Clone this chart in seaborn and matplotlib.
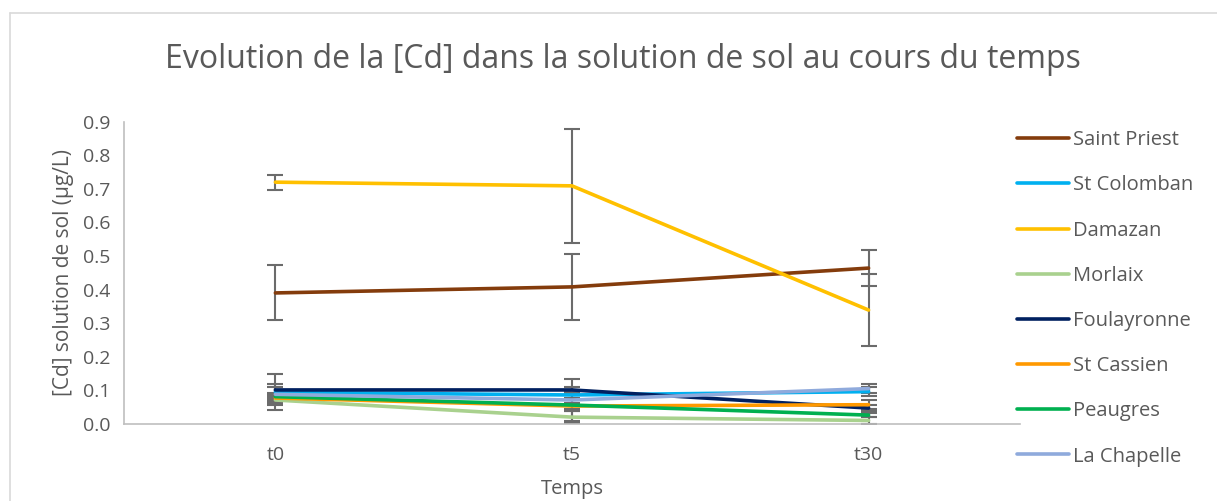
import numpy as np
import pandas as pd
import matplotlib
matplotlib.use("Agg")
import matplotlib.pyplot as plt
import seaborn as sns

# Data
times = ["t0", "t5", "t30"]
sites = ["Saint Priest", "St Colomban", "Damazan", "Morlaix",
         "Foulayronne", "St Cassien", "Peaugres", "La Chapelle"]

saint_priest = [0.390, 0.408, 0.464]
st_colomban = [0.094, 0.086, 0.096]
damazan = [0.720, 0.709, 0.339]
morlaix = [0.071, 0.020, 0.010]
foulayronne = [0.101, 0.101, 0.047]
st_cassien = [0.077, 0.053, 0.057]
peaugres = [0.081, 0.056, 0.026]
la_chapelle = [0.088, 0.071, 0.105]

# error bar half-widths
err_saint_priest = [0.082, 0.098, 0.054]
err_st_colomban = [0.054, 0.010, 0.013]
err_damazan = [0.022, 0.170, 0.106]
err_morlaix = [0.008, 0.018, 0.011]
err_foulayronne = [0.010, 0.010, 0.008]
err_st_cassien = [0.008, 0.010, 0.013]
err_peaugres = [0.008, 0.017, 0.005]
err_la_chapelle = [0.031, 0.064, 0.014]

colors = ["#843C0C", "#00B0F0", "#FFC000", "#A9D18E",
          "#002060", "#FF9900", "#00B050", "#8FAADC"]

values = [saint_priest, st_colomban, damazan, morlaix,
          foulayronne, st_cassien, peaugres, la_chapelle]
errors = [err_saint_priest, err_st_colomban, err_damazan, err_morlaix,
          err_foulayronne, err_st_cassien, err_peaugres, err_la_chapelle]

rows = []
for site, vals, errs in zip(sites, values, errors):
    for i, t in enumerate(times):
        rows.append({"site": site, "temps": t, "pos": i, "cd": vals[i], "err": errs[i]})
df = pd.DataFrame(rows)

sns.set_style("white")
plt.rcParams["font.family"] = ["Open Sans", "DejaVu Sans"]

fig = plt.figure(figsize=(12.17, 5.01), dpi=100)
ax = fig.add_axes([0.102, 0.154, 0.736, 0.603])

# error bars first, behind the lines
for site in sites:
    sub = df[df["site"] == site]
    ax.errorbar(sub["pos"], sub["cd"], yerr=sub["err"], fmt="none",
                ecolor="#6b6b6b", elinewidth=1.5, capsize=5.5, capthick=1.5, zorder=2)

sns.lineplot(data=df, x="pos", y="cd", hue="site", hue_order=sites,
             palette=colors, linewidth=2.6, ax=ax, legend=True, zorder=3)

ax.set_xlim(-0.51, 2.51)
ax.set_ylim(0, 0.9)
ax.set_xticks(range(len(times)))
ax.set_xticklabels(times)
ax.set_yticks(np.arange(0, 0.91, 0.1))
ax.set_yticklabels([f"{v:.1f}" for v in np.arange(0, 0.91, 0.1)])
ax.tick_params(axis="both", length=0, labelsize=14, colors="#595959", pad=10)
ax.tick_params(axis="x", pad=16)

for s in ["top", "right"]:
    ax.spines[s].set_visible(False)
for s in ["left", "bottom"]:
    ax.spines[s].set_color("#BFBFBF")
    ax.spines[s].set_linewidth(1.2)

ax.set_xlabel("Temps", fontsize=14.5, color="#595959", labelpad=11)
ax.set_ylabel("[Cd] solution de sol (µg/L)", fontsize=15, color="#595959", labelpad=6)

fig.suptitle("Evolution de la [Cd] dans la solution de sol au cours du temps",
             x=0.512, y=0.915, fontsize=23, color="#595959")

handles, labels = ax.get_legend_handles_labels()
ax.legend(handles, labels, loc="upper left", bbox_to_anchor=(0.829, 0.756),
          bbox_transform=fig.transFigure, frameon=False, fontsize=14.5,
          labelcolor="#595959", handlelength=2.6, handletextpad=0.2,
          labelspacing=1.25, borderaxespad=0)

# chart border like the spreadsheet frame
fig.add_artist(plt.Line2D([0.008, 0.008], [0, 0.975], color="#D9D9D9", lw=1.2,
                          transform=fig.transFigure))
fig.add_artist(plt.Line2D([0.008, 1.0], [0.975, 0.975], color="#D9D9D9", lw=1.2,
                          transform=fig.transFigure))

fig.savefig("out.png", dpi=100)
